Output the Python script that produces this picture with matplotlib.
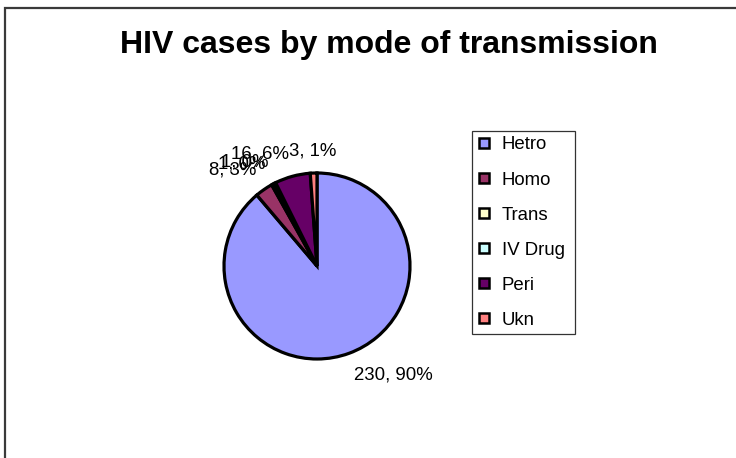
import numpy as np
import matplotlib
matplotlib.use("Agg")
import matplotlib.pyplot as plt
from matplotlib.lines import Line2D

plt.rcParams['font.family'] = ['Liberation Sans', 'DejaVu Sans']

categories = ["Hetro", "Homo", "Trans", "IV Drug", "Peri", "Ukn"]
values = [230, 8, 1, 1, 16, 3]
pct_labels = ["90%", "3%", "0%", "0%", "6%", "1%"]
colors = ["#9999FF", "#993366", "#FFFFCC", "#CCFFFF", "#660066", "#FF8080"]

W, H = 736, 458
fig = plt.figure(figsize=(W / 100, H / 100), dpi=100)
ax = fig.add_axes([0, 0, 1, 1])
ax.set_xlim(0, W)
ax.set_ylim(0, H)
ax.set_aspect('equal')
ax.axis('off')

# outer chart-area frame (top and left visible)
ax.plot([4.5, 4.5, W], [0, H - 7.5, H - 7.5], color="#3a3a3a", lw=1.6,
        solid_capstyle='butt', solid_joinstyle='miter')

cx, cy, r = 317, H - 266, 93
wedges, _ = ax.pie(values, colors=colors, startangle=90, counterclock=False,
                   center=(cx, cy), radius=r, frame=True,
                   wedgeprops=dict(edgecolor="black", linewidth=2.3))
ax.set_xlim(0, W)
ax.set_ylim(0, H)
ax.axis('off')

for w, v, p in zip(wedges, values, pct_labels):
    ang = np.deg2rad((w.theta1 + w.theta2) / 2)
    d = r * 1.15
    x = cx + d * np.cos(ang)
    y = cy + d * np.sin(ang)
    c = np.cos(ang)
    ha = 'center' if abs(c) < 0.1 else ('left' if c > 0 else 'right')
    va = 'bottom' if np.sin(ang) > 0 else 'top'
    ax.text(x, y, f"{v}, {p}", ha=ha, va=va, fontsize=13.4, color="black")

fig.text(389 / W, 1 - 45 / H, "HIV cases by mode of transmission",
         ha='center', va='center', fontsize=23, fontweight='bold')

handles = [Line2D([], [], marker='s', linestyle='none', markersize=7,
                  markerfacecolor=c, markeredgecolor='black', markeredgewidth=1.8)
           for c in colors]
leg = fig.legend(handles, categories, loc='upper left',
                 bbox_to_anchor=(472 / W, 1 - 131 / H, 103 / W, 0),
                 mode='expand', fontsize=13.4,
                 frameon=True, fancybox=False, edgecolor='black',
                 labelspacing=0.97, handlelength=0.75, handletextpad=0.55,
                 borderpad=0.29, borderaxespad=0)
leg.get_frame().set_linewidth(0.9)

fig.savefig("out.png", dpi=100)
